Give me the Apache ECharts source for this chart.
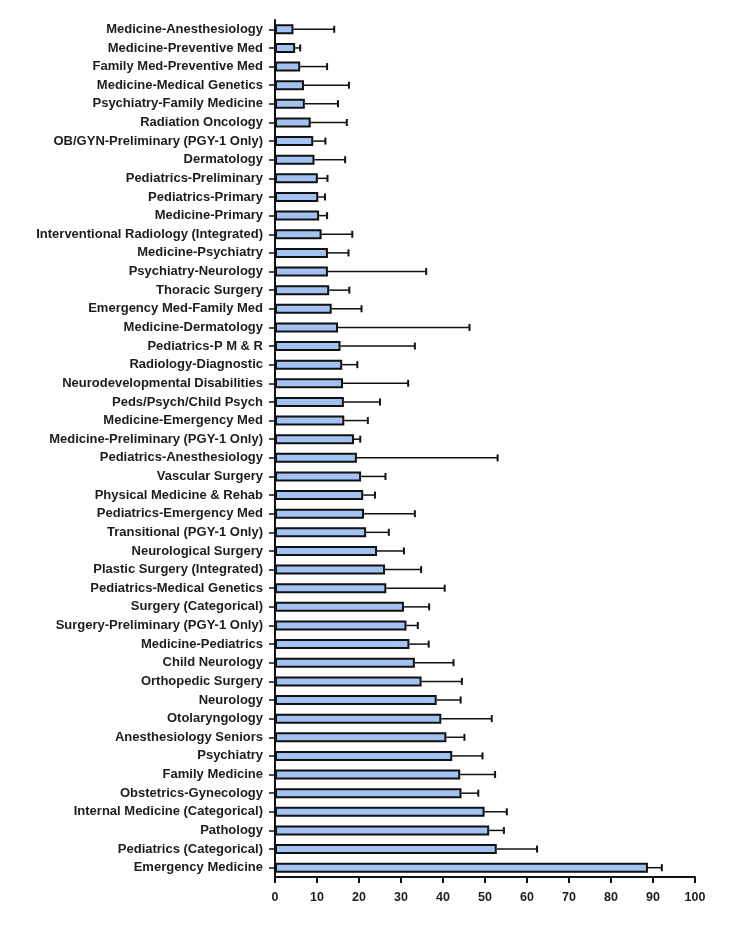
<!DOCTYPE html>
<html>
<head>
<meta charset="utf-8">
<script src="https://cdn.jsdelivr.net/npm/echarts@6/dist/echarts.min.js"></script>
<style>html,body{margin:0;padding:0;background:#fff}#c{width:750px;height:940px}</style>
</head>
<body>
<div id="c"></div>
<script>
var categories = [
"Medicine-Anesthesiology","Medicine-Preventive Med","Family Med-Preventive Med","Medicine-Medical Genetics",
"Psychiatry-Family Medicine","Radiation Oncology","OB/GYN-Preliminary (PGY-1 Only)","Dermatology",
"Pediatrics-Preliminary","Pediatrics-Primary","Medicine-Primary","Interventional Radiology (Integrated)",
"Medicine-Psychiatry","Psychiatry-Neurology","Thoracic Surgery","Emergency Med-Family Med",
"Medicine-Dermatology","Pediatrics-P M & R","Radiology-Diagnostic","Neurodevelopmental Disabilities",
"Peds/Psych/Child Psych","Medicine-Emergency Med","Medicine-Preliminary (PGY-1 Only)","Pediatrics-Anesthesiology",
"Vascular Surgery","Physical Medicine & Rehab","Pediatrics-Emergency Med","Transitional (PGY-1 Only)",
"Neurological Surgery","Plastic Surgery (Integrated)","Pediatrics-Medical Genetics","Surgery (Categorical)",
"Surgery-Preliminary (PGY-1 Only)","Medicine-Pediatrics","Child Neurology","Orthopedic Surgery",
"Neurology","Otolaryngology","Anesthesiology Seniors","Psychiatry",
"Family Medicine","Obstetrics-Gynecology","Internal Medicine (Categorical)","Pathology",
"Pediatrics (Categorical)","Emergency Medicine"
];
var means = [
4.4,4.8,6.0,6.9,7.1,8.5,9.1,9.4,10.2,10.3,10.5,11.1,12.6,12.6,12.9,13.5,15.0,15.6,16.0,16.2,16.4,16.5,18.8,19.5,
20.5,21.0,21.2,21.7,24.3,26.2,26.5,30.7,31.3,32.0,33.3,34.9,38.5,39.6,40.8,42.2,44.1,44.4,49.9,51.0,52.8,88.8
];
var upper = [
14.1,6.0,12.4,17.6,15.0,17.1,12.0,16.7,12.5,11.9,12.4,18.4,17.5,36.0,17.7,20.6,46.3,33.3,19.6,31.7,25.0,22.1,20.3,53.0,
26.3,23.8,33.3,27.1,30.7,34.8,40.4,36.7,34.0,36.6,42.5,44.5,44.2,51.6,45.1,49.4,52.4,48.4,55.2,54.5,62.4,92.1
];
var xTicks = [0,10,20,30,40,50,60,70,80,90,100];

var chart = echarts.init(document.getElementById('c'), null, {renderer:'canvas'});
var errData = categories.map(function(c,i){ return [i, means[i], upper[i]]; });
var txt = '#1c1c1c';
chart.setOption({
  backgroundColor:'#ffffff',
  animation:false,
  grid:{left:275, right:55, top:20, bottom:63, containLabel:false},
  xAxis:{
    type:'value', min:xTicks[0], max:xTicks[xTicks.length-1], interval:10,
    axisLine:{show:true, lineStyle:{color:'#111', width:2}},
    axisTick:{show:true, length:6, lineStyle:{color:'#111', width:2}},
    axisLabel:{color:txt, fontFamily:'Liberation Sans', fontWeight:'bold', fontSize:12.5, margin:14},
    splitLine:{show:false}
  },
  yAxis:{
    type:'category', data:categories, inverse:true,
    axisLine:{show:true, lineStyle:{color:'#111', width:2}},
    axisTick:{show:true, length:6, alignWithLabel:true, lineStyle:{color:'#111', width:1.5}},
    axisLabel:{color:txt, fontFamily:'Liberation Sans', fontWeight:'bold', fontSize:13, margin:12, interval:0}
  },
  series:[
    {
      type:'custom',
      z:1,
      data:errData,
      encode:{x:[1,2], y:0},
      renderItem:function(params, api){
        var y = api.value(0);
        var p0 = api.coord([api.value(1), y]);
        var p1 = api.coord([api.value(2), y]);
        return {type:'group', children:[
          {type:'line', shape:{x1:p0[0], y1:p0[1], x2:p1[0], y2:p1[1]}, style:{stroke:'#111', lineWidth:1.5}},
          {type:'line', shape:{x1:p1[0], y1:p1[1]-3.5, x2:p1[0], y2:p1[1]+3.5}, style:{stroke:'#111', lineWidth:2}}
        ]};
      }
    },
    {
      type:'bar', z:2,
      data:means,
      barWidth:10,
      itemStyle:{color:'#a3c1f1', borderColor:'#111', borderWidth:2}
    }
  ]
});
</script>
</body>
</html>
